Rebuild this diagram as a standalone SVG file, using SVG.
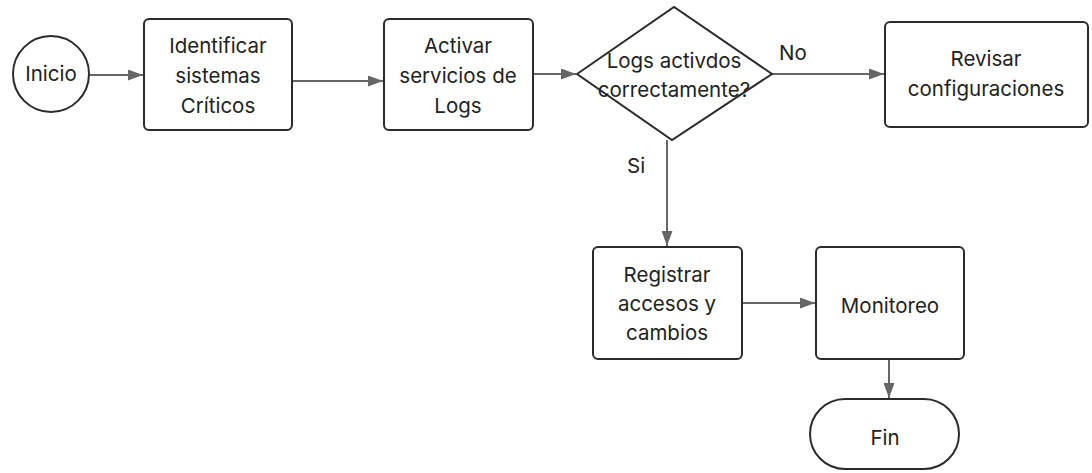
<svg xmlns="http://www.w3.org/2000/svg" width="1092" height="473" viewBox="0 0 1092 473">
<style>
.n{fill:#fff;stroke:#2b2b2b;stroke-width:2}
.t{font-family:Inter,"Liberation Sans",sans-serif;font-size:20.5px;fill:#222;text-anchor:middle}
.c{fill:none;stroke:#666;stroke-width:2}
.l{font-family:Inter,"Liberation Sans",sans-serif;font-size:20.5px;fill:#222}
</style>
<defs>
<marker id="a" viewBox="0 0 10 10" refX="10" refY="5" markerWidth="15" markerHeight="11" markerUnits="userSpaceOnUse" orient="auto" preserveAspectRatio="none">
<path d="M0,0L10,5L0,10z" fill="#666"/>
</marker>
</defs>
<rect width="1092" height="473" fill="#fff"/>
<g id="connectors">
<line class="c" x1="90" y1="75" x2="143" y2="75" marker-end="url(#a)"/>
<line class="c" x1="292" y1="81" x2="383" y2="81" marker-end="url(#a)"/>
<line class="c" x1="533" y1="74" x2="576" y2="74" marker-end="url(#a)"/>
<line class="c" x1="772" y1="74" x2="884" y2="74" marker-end="url(#a)"/>
<line class="c" x1="667" y1="140" x2="667" y2="246" marker-end="url(#a)"/>
<line class="c" x1="742" y1="303" x2="815" y2="303" marker-end="url(#a)"/>
<line class="c" x1="889" y1="359" x2="889" y2="398" marker-end="url(#a)"/>
<text class="l" x="779" y="60">No</text>
<text class="l" x="627" y="173">Si</text>
</g>
<g id="inicio">
<circle class="n" cx="51" cy="74" r="38"/>
<text class="t" x="51" y="81">Inicio</text>
</g>
<g id="identificar">
<rect class="n" x="144" y="19" width="148" height="111" rx="5"/>
<text class="t" x="218" y="53">Identificar</text>
<text class="t" x="218" y="83">sistemas</text>
<text class="t" x="218" y="113">Críticos</text>
</g>
<g id="activar">
<rect class="n" x="384" y="19" width="149" height="111" rx="5"/>
<text class="t" x="458" y="53">Activar</text>
<text class="t" x="458" y="83">servicios de</text>
<text class="t" x="458" y="113">Logs</text>
</g>
<g id="decision">
<polygon class="n" points="577,74 674,7 772,74 672,140"/>
<text class="t" x="674" y="68">Logs activdos</text>
<text class="t" x="674" y="97">correctamente?</text>
</g>
<g id="revisar">
<rect class="n" x="885" y="22" width="203" height="105" rx="5"/>
<text class="t" x="986" y="66">Revisar</text>
<text class="t" x="986" y="96">configuraciones</text>
</g>
<g id="registrar">
<rect class="n" x="593" y="247" width="149" height="112" rx="5"/>
<text class="t" x="667" y="282">Registrar</text>
<text class="t" x="667" y="311">accesos y</text>
<text class="t" x="667" y="340">cambios</text>
</g>
<g id="monitoreo">
<rect class="n" x="816" y="247" width="148" height="112" rx="5"/>
<text class="t" x="890" y="313">Monitoreo</text>
</g>
<g id="fin">
<rect class="n" x="810" y="399" width="149" height="70" rx="35"/>
<text class="t" x="885" y="445">Fin</text>
</g>
</svg>
